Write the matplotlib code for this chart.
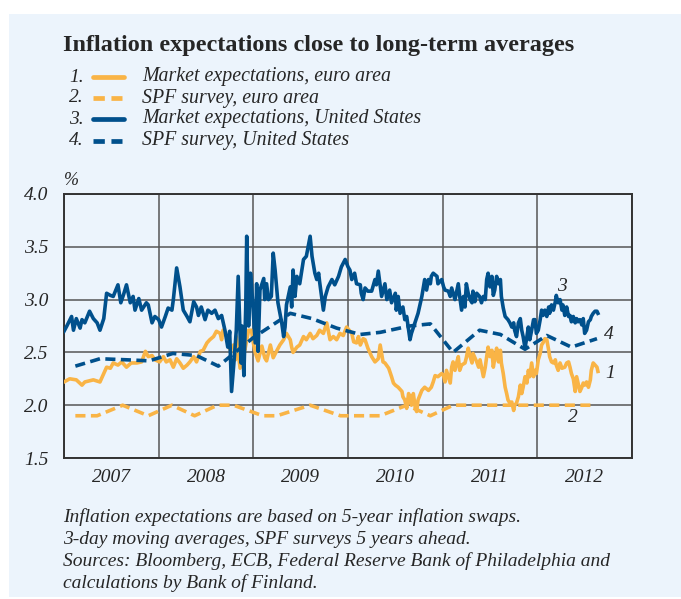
import numpy as np
import matplotlib
matplotlib.use("Agg")
import matplotlib.pyplot as plt
from matplotlib.lines import Line2D
from matplotlib.patches import Rectangle

# data (decimal years, %)
us_mkt_t = [2007.00, 2007.03, 2007.08, 2007.10, 2007.13, 2007.17, 2007.19, 2007.22, 2007.27, 2007.31,
            2007.35, 2007.38, 2007.42, 2007.45, 2007.49, 2007.52, 2007.57, 2007.60, 2007.63, 2007.66,
            2007.70, 2007.73, 2007.75, 2007.79, 2007.82, 2007.87, 2007.89, 2007.93, 2007.96, 2008.00,
            2008.03, 2008.07, 2008.10, 2008.14, 2008.155, 2008.19, 2008.225, 2008.26, 2008.30, 2008.33,
            2008.37, 2008.40, 2008.42, 2008.45, 2008.49, 2008.52, 2008.56, 2008.595, 2008.63, 2008.665,
            2008.70, 2008.73, 2008.75, 2008.77, 2008.80, 2008.82, 2008.84, 2008.87, 2008.88, 2008.90,
            2008.92, 2008.93, 2008.95, 2008.97, 2008.98, 2009.02, 2009.035, 2009.05, 2009.07, 2009.11,
            2009.12, 2009.14, 2009.16, 2009.19, 2009.21, 2009.23, 2009.26, 2009.30, 2009.32, 2009.335,
            2009.35, 2009.39, 2009.405, 2009.42, 2009.44, 2009.46, 2009.49, 2009.53, 2009.56, 2009.60,
            2009.62, 2009.65, 2009.67, 2009.69, 2009.70, 2009.74, 2009.76, 2009.79, 2009.83, 2009.86,
            2009.90, 2009.93, 2009.97, 2010.00, 2010.02, 2010.04, 2010.07, 2010.09, 2010.13, 2010.14,
            2010.16, 2010.18, 2010.21, 2010.25, 2010.285, 2010.30, 2010.32, 2010.355, 2010.39, 2010.41,
            2010.44, 2010.46, 2010.50, 2010.51, 2010.53, 2010.55, 2010.58, 2010.60, 2010.62, 2010.64,
            2010.655, 2010.67, 2010.71, 2010.74, 2010.76, 2010.78, 2010.795, 2010.81, 2010.83, 2010.85,
            2010.87, 2010.88, 2010.90, 2010.94, 2010.95, 2010.99, 2011.01, 2011.025, 2011.06, 2011.08,
            2011.095, 2011.13, 2011.165, 2011.18, 2011.20, 2011.22, 2011.236, 2011.25, 2011.27, 2011.29,
            2011.31, 2011.32, 2011.34, 2011.36, 2011.39, 2011.41, 2011.43, 2011.45, 2011.465, 2011.48,
            2011.50, 2011.52, 2011.535, 2011.55, 2011.57, 2011.59, 2011.61, 2011.62, 2011.64, 2011.66,
            2011.69, 2011.71, 2011.73, 2011.75, 2011.76, 2011.78, 2011.80, 2011.82, 2011.835, 2011.85,
            2011.87, 2011.89, 2011.905, 2011.92, 2011.94, 2011.96, 2011.975, 2011.99, 2012.01, 2012.03,
            2012.045, 2012.06, 2012.08, 2012.10, 2012.12, 2012.13, 2012.15, 2012.17, 2012.19, 2012.20,
            2012.22, 2012.24, 2012.26, 2012.27, 2012.29, 2012.31, 2012.33, 2012.345, 2012.36, 2012.38,
            2012.40, 2012.415, 2012.43, 2012.45, 2012.47, 2012.485, 2012.50, 2012.52, 2012.54, 2012.56,
            2012.57, 2012.59, 2012.61, 2012.63, 2012.64]
us_mkt_v = [2.70, 2.75, 2.84, 2.71, 2.82, 2.73, 2.81, 2.78, 2.89, 2.82,
            2.78, 2.71, 2.82, 3.06, 3.04, 3.03, 3.14, 2.97, 3.05, 3.14,
            2.97, 3.03, 2.90, 3.01, 2.90, 2.97, 2.95, 2.78, 2.84, 2.81,
            2.74, 2.84, 2.92, 2.90, 3.00, 3.30, 3.12, 2.90, 2.84, 2.79,
            2.98, 2.93, 2.85, 2.93, 2.81, 2.90, 2.87, 2.90, 2.82, 2.85,
            2.71, 2.55, 2.70, 2.13, 2.46, 2.71, 3.22, 2.40, 2.75, 2.28,
            2.93, 3.60, 2.75, 3.25, 3.15, 2.59, 3.15, 2.51, 3.09, 3.20,
            3.00, 3.15, 3.00, 3.03, 3.44, 3.28, 2.97, 2.78, 2.65, 2.74,
            2.95, 3.12, 2.93, 3.28, 3.03, 3.22, 3.15, 3.38, 3.41, 3.60,
            3.41, 3.25, 3.19, 3.25, 3.17, 2.90, 3.03, 3.12, 3.19, 3.14,
            3.22, 3.31, 3.38, 3.31, 3.28, 3.19, 3.25, 3.15, 3.14, 3.06,
            3.00, 3.11, 3.08, 3.08, 3.19, 3.14, 3.27, 3.03, 3.15, 3.00,
            3.09, 2.97, 3.06, 2.90, 3.03, 2.87, 2.93, 2.81, 2.84, 2.71,
            2.62, 2.68, 2.79, 2.87, 2.95, 3.03, 3.11, 3.19, 3.09, 3.19,
            3.15, 3.22, 3.25, 3.22, 3.15, 3.19, 3.12, 3.09, 3.08, 3.03,
            3.11, 3.00, 3.15, 3.03, 2.90, 3.03, 2.93, 3.15, 3.06, 3.00,
            2.97, 3.08, 2.98, 3.06, 3.03, 2.97, 3.03, 3.00, 3.19, 3.25,
            3.12, 3.22, 3.04, 3.09, 3.22, 3.15, 3.19, 3.03, 2.92, 2.84,
            2.81, 2.78, 2.74, 2.78, 2.71, 2.65, 2.78, 2.82, 2.71, 2.65,
            2.54, 2.65, 2.74, 2.62, 2.71, 2.81, 2.81, 2.68, 2.71, 2.81,
            2.90, 2.85, 2.90, 2.84, 2.93, 2.87, 2.95, 2.90, 2.98, 3.04,
            2.97, 3.00, 2.90, 2.95, 2.85, 2.93, 2.84, 2.85, 2.79, 2.84,
            2.78, 2.82, 2.79, 2.81, 2.76, 2.82, 2.68, 2.71, 2.79, 2.81,
            2.84, 2.87, 2.89, 2.89, 2.87]

eu_mkt_t = [2007.00, 2007.06, 2007.13, 2007.19, 2007.22, 2007.31, 2007.38, 2007.42, 2007.45, 2007.49,
            2007.52, 2007.57, 2007.61, 2007.66, 2007.71, 2007.77, 2007.82, 2007.86, 2007.89, 2007.93,
            2007.96, 2008.01, 2008.05, 2008.08, 2008.12, 2008.155, 2008.19, 2008.225, 2008.26, 2008.30,
            2008.33, 2008.37, 2008.40, 2008.44, 2008.47, 2008.51, 2008.54, 2008.58, 2008.61, 2008.65,
            2008.665, 2008.68, 2008.72, 2008.75, 2008.79, 2008.81, 2008.82, 2008.86, 2008.895, 2008.91,
            2008.95, 2008.98, 2009.00, 2009.02, 2009.05, 2009.09, 2009.12, 2009.14, 2009.18, 2009.21,
            2009.25, 2009.28, 2009.32, 2009.35, 2009.39, 2009.405, 2009.42, 2009.46, 2009.49, 2009.53,
            2009.56, 2009.60, 2009.63, 2009.67, 2009.70, 2009.74, 2009.775, 2009.81, 2009.845, 2009.88,
            2009.915, 2009.95, 2009.985, 2010.04, 2010.06, 2010.09, 2010.11, 2010.13, 2010.16, 2010.18,
            2010.21, 2010.25, 2010.285, 2010.32, 2010.34, 2010.355, 2010.37, 2010.39, 2010.43, 2010.46,
            2010.48, 2010.50, 2010.53, 2010.57, 2010.58, 2010.60, 2010.62, 2010.64, 2010.655, 2010.67,
            2010.69, 2010.71, 2010.725, 2010.74, 2010.78, 2010.81, 2010.85, 2010.88, 2010.90, 2010.92,
            2010.95, 2010.99, 2011.01, 2011.025, 2011.04, 2011.08, 2011.095, 2011.11, 2011.13, 2011.15,
            2011.165, 2011.18, 2011.20, 2011.236, 2011.25, 2011.27, 2011.29, 2011.31, 2011.32, 2011.36,
            2011.38, 2011.395, 2011.43, 2011.45, 2011.465, 2011.48, 2011.50, 2011.52, 2011.535, 2011.55,
            2011.57, 2011.59, 2011.61, 2011.62, 2011.64, 2011.66, 2011.676, 2011.69, 2011.71, 2011.73,
            2011.75, 2011.76, 2011.78, 2011.80, 2011.82, 2011.835, 2011.85, 2011.87, 2011.89, 2011.905,
            2011.92, 2011.94, 2011.96, 2011.975, 2011.99, 2012.01, 2012.03, 2012.045, 2012.06, 2012.08,
            2012.10, 2012.12, 2012.13, 2012.15, 2012.17, 2012.19, 2012.20, 2012.22, 2012.24, 2012.26,
            2012.29, 2012.31, 2012.33, 2012.345, 2012.36, 2012.38, 2012.40, 2012.415, 2012.43, 2012.45,
            2012.47, 2012.485, 2012.50, 2012.52, 2012.54, 2012.56, 2012.57, 2012.59, 2012.61, 2012.63,
            2012.64]
eu_mkt_v = [2.22, 2.25, 2.24, 2.19, 2.22, 2.24, 2.22, 2.30, 2.36, 2.35,
            2.40, 2.38, 2.41, 2.36, 2.40, 2.40, 2.41, 2.51, 2.46, 2.47,
            2.43, 2.41, 2.46, 2.41, 2.43, 2.36, 2.44, 2.40, 2.35, 2.38,
            2.41, 2.46, 2.41, 2.51, 2.52, 2.59, 2.62, 2.65, 2.70, 2.68,
            2.62, 2.71, 2.65, 2.53, 2.57, 2.43, 2.65, 2.35, 2.57, 2.52,
            2.71, 2.71, 2.59, 2.50, 2.42, 2.56, 2.45, 2.42, 2.57, 2.45,
            2.52, 2.57, 2.62, 2.68, 2.62, 2.55, 2.50, 2.55, 2.57, 2.65,
            2.62, 2.68, 2.63, 2.66, 2.71, 2.68, 2.78, 2.62, 2.65, 2.62,
            2.68, 2.66, 2.74, 2.68, 2.60, 2.59, 2.65, 2.57, 2.63, 2.62,
            2.54, 2.46, 2.41, 2.44, 2.57, 2.49, 2.41, 2.40, 2.35, 2.27,
            2.21, 2.19, 2.17, 2.13, 2.08, 2.05, 1.97, 2.11, 2.08, 2.00,
            2.11, 1.98, 1.94, 2.05, 2.14, 2.17, 2.14, 2.17, 2.22, 2.28,
            2.27, 2.30, 2.28, 2.22, 2.33, 2.21, 2.36, 2.41, 2.33, 2.41,
            2.46, 2.33, 2.38, 2.40, 2.45, 2.54, 2.46, 2.40, 2.49, 2.41,
            2.36, 2.43, 2.27, 2.36, 2.46, 2.55, 2.46, 2.52, 2.36, 2.44,
            2.54, 2.41, 2.52, 2.40, 2.30, 2.17, 2.11, 2.05, 2.02, 2.03,
            1.95, 2.00, 2.02, 2.08, 2.19, 2.11, 2.17, 2.27, 2.21, 2.33,
            2.27, 2.40, 2.27, 2.33, 2.30, 2.43, 2.49, 2.57, 2.59, 2.63,
            2.62, 2.52, 2.46, 2.41, 2.40, 2.43, 2.38, 2.33, 2.40, 2.35,
            2.36, 2.40, 2.41, 2.36, 2.30, 2.25, 2.13, 2.27, 2.21, 2.13,
            2.17, 2.21, 2.19, 2.22, 2.17, 2.24, 2.33, 2.40, 2.38, 2.36,
            2.32]

us_spf_t = [2007.12, 2007.38, 2007.66, 2007.90, 2008.15, 2008.40, 2008.63, 2009.00, 2009.39, 2009.62,
            2009.88, 2010.13, 2010.34, 2010.65, 2010.87, 2011.11, 2011.39, 2011.61, 2011.87, 2012.10,
            2012.36, 2012.63]
us_spf_v = [2.37, 2.44, 2.43, 2.42, 2.49, 2.47, 2.37, 2.64, 2.87, 2.82,
            2.73, 2.67, 2.69, 2.75, 2.77, 2.50, 2.71, 2.67, 2.53, 2.66,
            2.55, 2.63]

eu_spf_t = [2007.12, 2007.35, 2007.62, 2007.89, 2008.14, 2008.38, 2008.62, 2008.79, 2009.10, 2009.25,
            2009.60, 2009.92, 2010.34, 2010.62, 2010.87, 2011.11, 2012.59]
eu_spf_v = [1.90, 1.90, 2.00, 1.90, 2.00, 1.90, 2.00, 2.00, 1.90, 1.90,
            2.00, 1.90, 1.90, 2.00, 1.90, 2.00, 2.00]

years = [2007, 2008, 2009, 2010, 2011, 2012]
legend_labels = ["Market expectations, euro area", "SPF survey, euro area",
                 "Market expectations, United States", "SPF survey, United States"]
footnote = ["Inflation expectations are based on 5-year inflation swaps.",
            "3-day moving averages, SPF surveys 5 years ahead.",
            "Sources: Bloomberg, ECB, Federal Reserve Bank of Philadelphia and",
            "calculations by Bank of Finland."]

ORANGE = "#F9B446"
BLUE = "#00508C"
PANEL = "#ECF4FC"
TXT = "#262626"
SERIF = ["Liberation Serif", "DejaVu Serif"]
W, H = 681, 599

fig = plt.figure(figsize=(W / 100, H / 100), dpi=100)
fig.patch.set_facecolor("white")
fig.patches.append(Rectangle((9 / W, 1 - 597 / H), 672 / W, 583 / H,
                             transform=fig.transFigure, facecolor=PANEL,
                             edgecolor="none", zorder=-10))

ax = fig.add_axes([64 / W, 1 - 458 / H, 568 / W, 264 / H])
ax.set_facecolor(PANEL)

dash = (2.8, 1.5)
ax.plot(eu_spf_t, eu_spf_v, color=ORANGE, lw=2.6, dashes=dash, zorder=3)
ax.plot(eu_mkt_t, eu_mkt_v, color=ORANGE, lw=2.6, zorder=4)
ax.plot(us_spf_t, us_spf_v, color=BLUE, lw=2.6, dashes=dash, zorder=5)
ax.plot(us_mkt_t, us_mkt_v, color=BLUE, lw=2.6, zorder=6)

ax.set_xlim(2007, 2013)
ax.set_ylim(1.5, 4.0)
ax.set_yticks(np.arange(1.5, 4.01, 0.5))
ax.set_yticklabels(["%.1f" % v for v in np.arange(1.5, 4.01, 0.5)],
                   fontsize=14, fontstyle="italic", family=SERIF, color=TXT)
ax.set_xticks(years + [2013])
ax.set_xticklabels([])
ax.set_xticks([y + 0.5 for y in years], minor=True)
ax.set_xticklabels([str(y) for y in years], minor=True,
                   fontsize=14, fontstyle="italic", family=SERIF, color=TXT)
ax.tick_params(axis="both", which="both", length=0)
ax.tick_params(axis="y", pad=11)
ax.tick_params(axis="x", which="minor", pad=8)
ax.grid(True, which="major", color="#555555", lw=1.1)
for s in ax.spines.values():
    s.set_color("#333333")
    s.set_linewidth(1.4)

ax.text(0.0, 1.02, "%", transform=ax.transAxes, fontsize=13, fontstyle="italic",
        family=SERIF, color=TXT, va="bottom", ha="left")

# series numbers next to the lines
lab_kw = dict(fontsize=14, fontstyle="italic", family=SERIF, color=TXT,
              ha="center", va="center")
ax.text(2012.26, 3.12, "3", **lab_kw)
ax.text(2012.75, 2.67, "4", **lab_kw)
ax.text(2012.77, 2.30, "1", **lab_kw)
ax.text(2012.37, 1.88, "2", **lab_kw)

# title
fig.text(63 / W, 1 - 45 / H, "Inflation expectations close to long-term averages",
         fontsize=17.5, fontweight="bold", family=SERIF, color=TXT,
         va="center", ha="left")

# legend drawn by hand
rows = [77, 98, 119, 141]
styles = [(ORANGE, "-"), (ORANGE, "--"), (BLUE, "-"), (BLUE, "--")]
for i, (lab, (c, ls), yy) in enumerate(zip(legend_labels, styles, rows)):
    y = 1 - yy / H
    fig.text(84 / W, y, "%d." % (i + 1), fontsize=14, fontstyle="italic",
             family=SERIF, color=TXT, va="center", ha="right")
    if ls == "-":
        fig.lines.append(Line2D([93 / W, 124 / W], [y, y], transform=fig.transFigure,
                                color=c, lw=3.4, solid_capstyle="round"))
    else:
        fig.lines.append(Line2D([93 / W, 122 / W], [y, y], transform=fig.transFigure,
                                color=c, lw=3.4, dashes=(2.4, 1.4)))
    fig.text(142 / W, y, lab, fontsize=14.3, fontstyle="italic", family=SERIF,
             color=TXT, va="center", ha="left")

# footnote
for yy, line in zip([517, 539, 561, 583], footnote):
    fig.text(63 / W, 1 - yy / H, line, fontsize=14, fontstyle="italic", family=SERIF,
             color=TXT, va="center", ha="left")

fig.savefig("out.png", dpi=100, facecolor=fig.get_facecolor())
